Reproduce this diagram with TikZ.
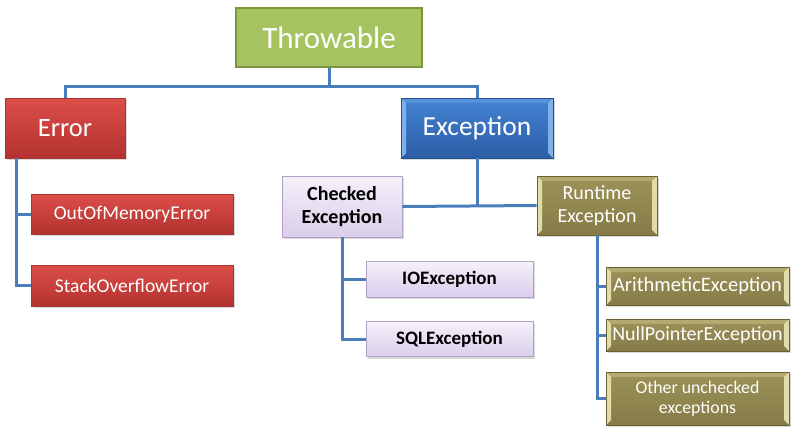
\documentclass[tikz,border=0pt]{standalone}
\usepackage{fontspec}
\setmainfont{Carlito}
\usetikzlibrary{shadows}
\definecolor{conncol}{HTML}{4A7EBB}
\definecolor{grfill}{HTML}{A5C35F}
\definecolor{grdraw}{HTML}{7A963F}
\definecolor{redtop}{HTML}{DC4E4A}
\definecolor{redbot}{HTML}{B3322F}
\definecolor{reddraw}{HTML}{A83532}
\definecolor{bltop}{HTML}{4382D2}
\definecolor{blbot}{HTML}{2C5EA6}
\definecolor{bldraw}{HTML}{24508E}
\definecolor{blbev}{HTML}{7FB0EC}
\definecolor{lvtop}{HTML}{F5F1FA}
\definecolor{lvbot}{HTML}{DACDEB}
\definecolor{lvdraw}{HTML}{B3A2C7}
\definecolor{oltop}{HTML}{9C9259}
\definecolor{olbot}{HTML}{857B47}
\definecolor{oldraw}{HTML}{6A6236}
\definecolor{olbev}{HTML}{E3DCA6}
\tikzset{
  conn/.style={draw=conncol, line width=3pt},
  basebox/.style={rectangle, inner sep=2pt, align=center, text=white},
  bevel/.style={path picture={
    \fill[#1] (path picture bounding box.north west) -- ++(5pt,-5pt)
      -- ([shift={(5pt,5pt)}]path picture bounding box.south west)
      -- (path picture bounding box.south west) -- cycle;
    \fill[#1] (path picture bounding box.north east) -- ++(-5pt,-5pt)
      -- ([shift={(-5pt,5pt)}]path picture bounding box.south east)
      -- (path picture bounding box.south east) -- cycle;
    \fill[#1, opacity=0.35] (path picture bounding box.north west) -- ++(5pt,-5pt)
      -- ([shift={(-5pt,-5pt)}]path picture bounding box.north east)
      -- (path picture bounding box.north east) -- cycle;
  }},
  greenbox/.style={basebox, fill=grfill, draw=grdraw, line width=1.5pt, font=\fontsize{31}{33}\selectfont},
  redbox/.style={basebox, top color=redtop, bottom color=redbot, draw=reddraw, line width=0.6pt,
    drop shadow={shadow xshift=1.5pt, shadow yshift=-2pt, opacity=0.3}},
  bluebox/.style={basebox, top color=bltop, bottom color=blbot, draw=bldraw, line width=0.8pt,
    bevel=blbev, drop shadow={shadow xshift=1.5pt, shadow yshift=-2pt, opacity=0.3},
    font=\fontsize{27.5}{29}\selectfont},
  lavbox/.style={basebox, text=black, top color=lvtop, bottom color=lvbot, draw=lvdraw, line width=0.8pt,
    drop shadow={shadow xshift=1.5pt, shadow yshift=-2pt, opacity=0.3}},
  olbox/.style={basebox, top color=oltop, bottom color=olbot, draw=oldraw, line width=0.8pt,
    bevel=olbev, drop shadow={shadow xshift=1.5pt, shadow yshift=-2pt, opacity=0.3}},
}
\begin{document}
\begin{tikzpicture}[x=1pt, y=-1pt]
\useasboundingbox (0,0) rectangle (800,442);
% nodes
\node[greenbox, minimum width=186pt, minimum height=59pt] (thr) at (329,37.5) {Throwable};
\node[redbox, minimum width=120pt, minimum height=60pt, font=\fontsize{26.5}{28}\selectfont] (err) at (65,128) {Error};
\node[bluebox, minimum width=152pt, minimum height=60pt] (exc) at (477,128) {Exception};
\node[redbox, minimum width=202pt, minimum height=40pt, font=\fontsize{19.5}{21}\selectfont] (oom) at (132,214) {OutOfMemoryError};
\node[redbox, minimum width=202pt, minimum height=41pt, font=\fontsize{19.5}{21}\selectfont] (soe) at (132,285.5) {StackOverflowError};
\node[lavbox, minimum width=120pt, minimum height=61pt, font=\fontsize{20}{22.5}\selectfont\bfseries] (chk) at (342,206.5) {Checked\\Exception};
\node[lavbox, minimum width=167pt, minimum height=36pt, font=\fontsize{19}{21}\selectfont\bfseries] (io) at (449.5,279) {IOException};
\node[lavbox, minimum width=167pt, minimum height=35pt, font=\fontsize{19}{21}\selectfont\bfseries] (sql) at (449.5,339) {SQLException};
\node[olbox, minimum width=120pt, minimum height=59pt, font=\fontsize{20}{22.5}\selectfont] (rt) at (597,205.5) {Runtime\\Exception};
\node[olbox, minimum width=183pt, minimum height=38pt, font=\fontsize{20.5}{22}\selectfont] (ari) at (697.5,286) {ArithmeticException};
\node[olbox, minimum width=183pt, minimum height=32pt, font=\fontsize{20}{22}\selectfont] (np) at (697.5,335) {NullPointerException};
\node[olbox, minimum width=183pt, minimum height=53pt, font=\fontsize{17.8}{20}\selectfont] (oth) at (697.5,398.5) {Other unchecked\\exceptions};
% connectors
\coordinate (bar) at (329,86);
\draw[conn] (thr.south) -- (bar);
\draw[conn] (err.north) |- (bar) -| (exc.north);
\draw[conn] (chk.east) -- (rt.west);
\draw[conn] (exc.south) -- (exc.south |- chk.east);
\coordinate (errtrunk) at ([xshift=12pt]err.south west);
\draw[conn] (errtrunk) |- (oom.west);
\draw[conn] (errtrunk) |- (soe.west);
\draw[conn] (chk.south) |- (io.west);
\draw[conn] (chk.south) |- (sql.west);
\draw[conn] (rt.south) |- (ari.west);
\draw[conn] (rt.south) |- (np.west);
\draw[conn] (rt.south) |- (oth.west);
\end{tikzpicture}
\end{document}
